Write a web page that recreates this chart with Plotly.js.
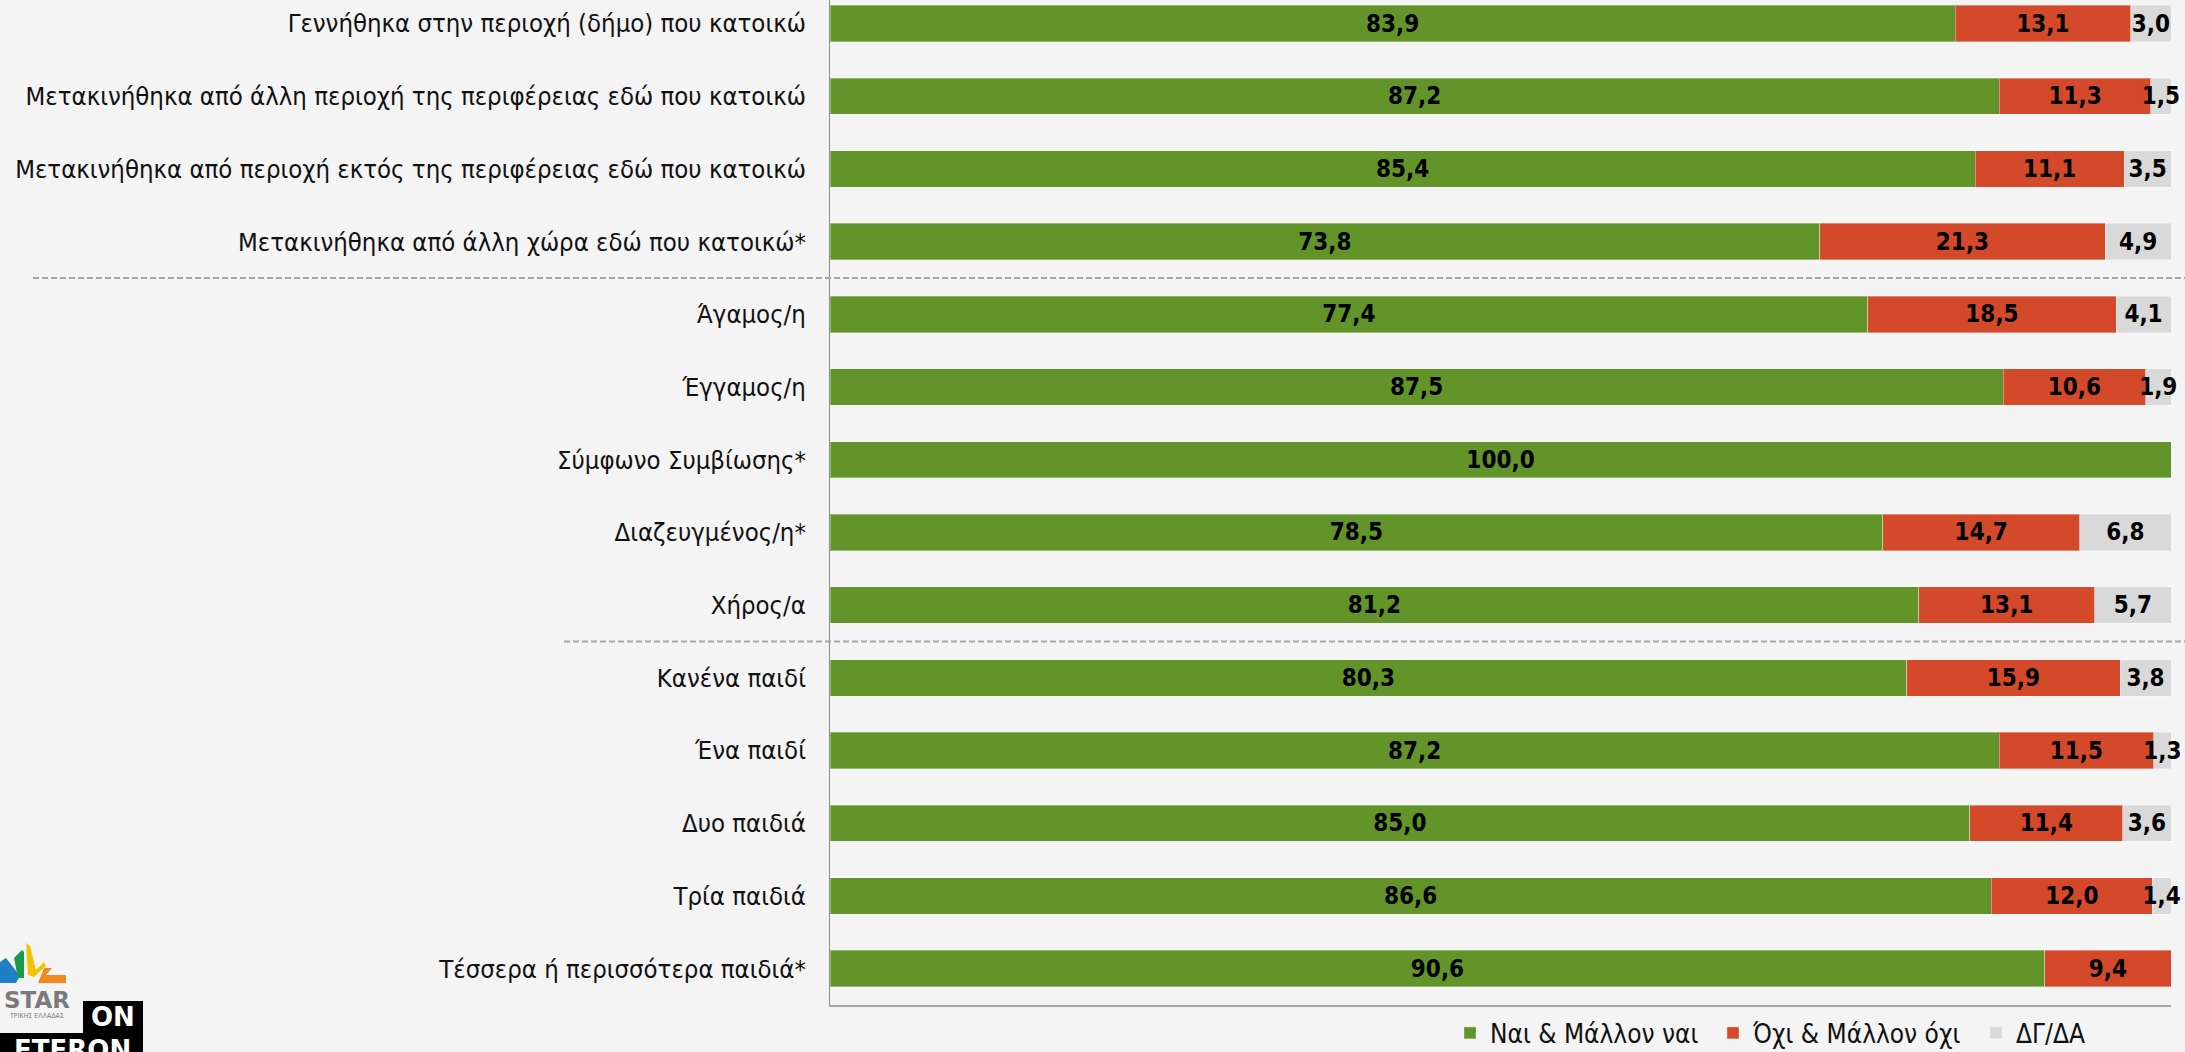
<!DOCTYPE html>
<html>
<head>
<meta charset="utf-8">
<script src="https://cdn.plot.ly/plotly-3.0.1.min.js"></script>
<style>
html,body{margin:0;padding:0;background:#f4f4f4;overflow:hidden;}
#chart{width:2185px;height:1052px;}
</style>
</head>
<body>
<div id="chart"></div>
<script>
const categories = [
  "Γεννήθηκα στην περιοχή (δήμο) που κατοικώ",
  "Μετακινήθηκα από άλλη περιοχή της περιφέρειας εδώ που κατοικώ",
  "Μετακινήθηκα από περιοχή εκτός της περιφέρειας εδώ που κατοικώ",
  "Μετακινήθηκα από άλλη χώρα εδώ που κατοικώ*",
  "Άγαμος/η",
  "Έγγαμος/η",
  "Σύμφωνο Συμβίωσης*",
  "Διαζευγμένος/η*",
  "Χήρος/α",
  "Κανένα παιδί",
  "Ένα παιδί",
  "Δυο παιδιά",
  "Τρία παιδιά",
  "Τέσσερα ή περισσότερα παιδιά*"
];
const yesValues   = [83.9, 87.2, 85.4, 73.8, 77.4, 87.5, 100.0, 78.5, 81.2, 80.3, 87.2, 85.0, 86.6, 90.6];
const noValues    = [13.1, 11.3, 11.1, 21.3, 18.5, 10.6, null, 14.7, 13.1, 15.9, 11.5, 11.4, 12.0, 9.4];
const dkValues    = [3.0, 1.5, 3.5, 4.9, 4.1, 1.9, null, 6.8, 5.7, 3.8, 1.3, 3.6, 1.4, null];
const seriesNames = ["Ναι & Μάλλον ναι", "Όχι & Μάλλον όχι", "ΔΓ/ΔΑ"];
const seriesColors = ["#62942a", "#d4492a", "#d9d9d9"];
const groupBreaks = [3.5, 8.5];

const W = 2185, H = 1052;
const M = {l: 830, r: 14, t: 0, b: 47, autoexpand: false};
const PW = W - M.l - M.r, PH = H - M.t - M.b;
const px = x => (x - M.l) / PW;
const py = y => (PH - (y - M.t)) / PH;

const fmt = v => (v === null || v === undefined) ? "" : v.toFixed(1).replace(".", ",");
const labelFont = {family: "DejaVu Sans Condensed, DejaVu Sans, sans-serif", size: 24, color: "#000", weight: "bold"};

const series = [yesValues, noValues, dkValues];
const traces = series.map((vals, i) => ({
  type: "bar",
  orientation: "h",
  name: seriesNames[i],
  y: categories,
  x: vals,
  text: vals.map(fmt),
  textposition: "inside",
  insidetextanchor: "middle",
  constraintext: "none",
  textangle: 0,
  cliponaxis: false,
  textfont: labelFont,
  marker: {color: seriesColors[i], line: {color: "rgba(255,255,255,0.35)", width: 1}},
  hoverinfo: "skip"
}));

const shapes = [];
// group separators (dashed)
const unit = PH / (13.5 + 0.324);
const sepStarts = [33, 564];
groupBreaks.forEach((b, k) => {
  const ypx = M.t + (b + 0.324) * unit;
  shapes.push({type: "line", xref: "paper", yref: "paper",
    x0: px(sepStarts[k]), x1: px(W), y0: py(ypx), y1: py(ypx),
    line: {color: "#a6a6a6", width: 2, dash: "6px,3px"}});
});
// logo approximation (bottom-left)
const rect = (x0, y0, x1, y1, c) => ({type: "rect", xref: "paper", yref: "paper",
  x0: px(x0), x1: px(x1), y0: py(y1), y1: py(y0), fillcolor: c, line: {width: 0}, layer: "above"});
const poly = (pts, c) => ({type: "path", xref: "paper", yref: "paper",
  path: "M" + pts.map(p => px(p[0]) + "," + py(p[1])).join("L") + "Z", fillcolor: c, line: {width: 0}, layer: "above"});
shapes.push(poly([[0, 962], [6, 958], [20, 976], [16, 983], [0, 983]], "#1f7fc4"));
shapes.push(poly([[14, 958], [22, 950], [24, 952], [24, 978], [18, 978]], "#1a9a4a"));
shapes.push(poly([[26, 943], [30, 946], [36, 970], [44, 962], [46, 966], [34, 977], [28, 975]], "#f2c300"));
shapes.push(poly([[44, 968], [52, 968], [46, 975], [66, 975], [66, 983], [38, 983]], "#f08a1e"));
shapes.push(rect(83, 1001, 143, 1052, "#000000"));
shapes.push(rect(0, 1033, 143, 1052, "#000000"));

const annotations = [
  {xref: "paper", yref: "paper", x: px(37), y: py(1000), text: "STAR", showarrow: false,
   font: {family: "DejaVu Sans, sans-serif", size: 23, color: "#7a7a7a", weight: "bold"}, xanchor: "center", yanchor: "middle"},
  {xref: "paper", yref: "paper", x: px(36), y: py(1016), text: "ΤΡΙΚΗΣ ΕΛΛΑΔΑΣ", showarrow: false,
   font: {family: "DejaVu Sans Condensed, DejaVu Sans, sans-serif", size: 7, color: "#7a7a7a"}, xanchor: "center", yanchor: "middle"},
  {xref: "paper", yref: "paper", x: px(113), y: py(1017), text: "ON", showarrow: false,
   font: {family: "DejaVu Sans, sans-serif", size: 26, color: "#ffffff", weight: "bold"}, xanchor: "center", yanchor: "middle"},
  {xref: "paper", yref: "paper", x: px(72), y: py(1033), text: "ETERON", showarrow: false,
   font: {family: "DejaVu Sans, sans-serif", size: 26, color: "#ffffff", weight: "bold"}, xanchor: "center", yanchor: "top"}
];

const layout = {
  width: W, height: H,
  margin: M,
  paper_bgcolor: "#f4f4f4",
  plot_bgcolor: "#f4f4f4",
  barmode: "stack",
  bargap: 0.5,
  showlegend: true,
  legend: {
    orientation: "h", x: px(1450), xanchor: "left", y: py(1033), yanchor: "middle",
    font: {family: "DejaVu Sans Condensed, DejaVu Sans, sans-serif", size: 26, color: "#111"},
    entrywidth: 218, entrywidthmode: "pixels", traceorder: "normal", bgcolor: "rgba(0,0,0,0)"
  },
  xaxis: {range: [0, 100], showticklabels: false, showgrid: false, zeroline: false,
          showline: true, linecolor: "#a6a6a6", linewidth: 2, ticks: "", fixedrange: true},
  yaxis: {type: "category", categoryorder: "array", categoryarray: categories,
          autorange: false, range: [13.5, -0.324], showgrid: false, zeroline: false,
          showline: true, linecolor: "#8c8c8c", linewidth: 1, ticks: "", ticklabelstandoff: 18,
          tickfont: {family: "DejaVu Sans Condensed, DejaVu Sans, sans-serif", size: 25.5, color: "#111"},
          fixedrange: true},
  shapes: shapes,
  annotations: annotations,
  uniformtext: {mode: false}
};

Plotly.newPlot("chart", traces, layout, {displayModeBar: false, staticPlot: true});
</script>
</body>
</html>
